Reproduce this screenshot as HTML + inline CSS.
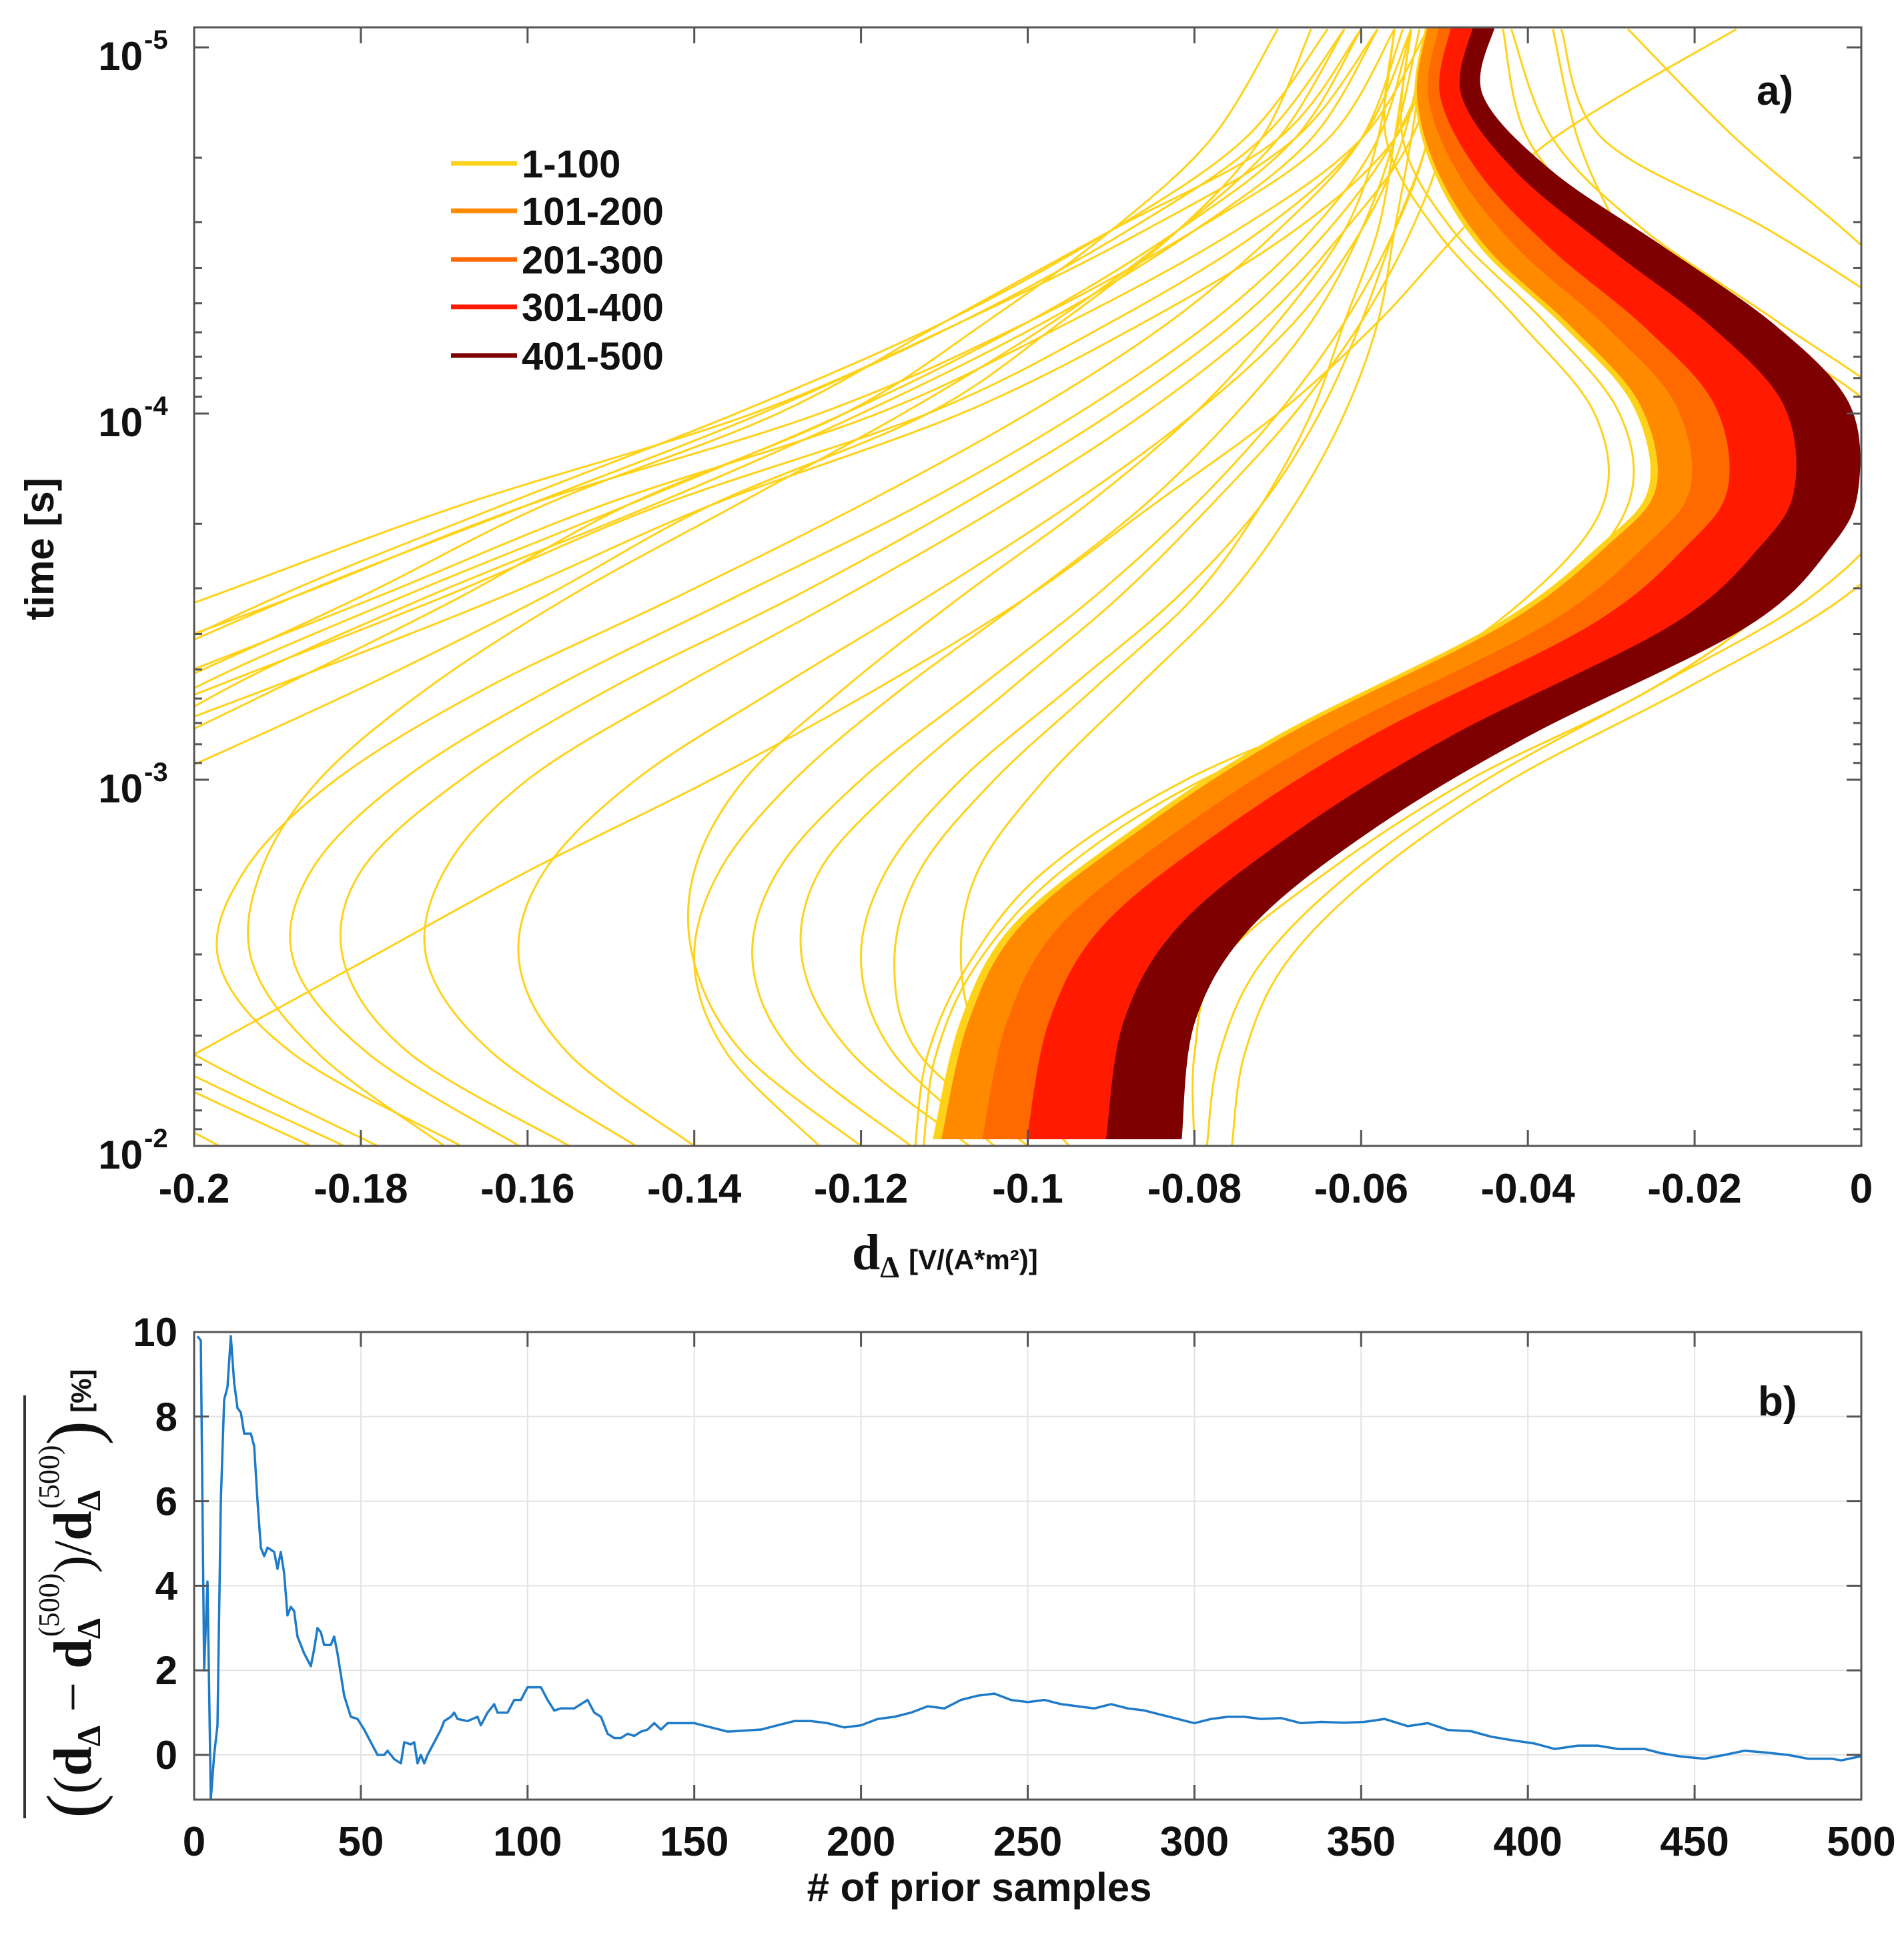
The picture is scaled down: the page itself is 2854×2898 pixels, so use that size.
<!DOCTYPE html>
<html><head><meta charset="utf-8">
<style>
html,body{margin:0;padding:0;background:#fff;}
svg{display:block;}
text{font-family:"Liberation Sans",Arial,sans-serif;font-weight:bold;fill:#111;}
.serif{font-family:"Liberation Serif","DejaVu Serif",serif;}
</style></head>
<body>
<svg id="fig" xmlns="http://www.w3.org/2000/svg" width="2854" height="2898" viewBox="0 0 2854 2898">
<defs>
<clipPath id="clipA"><rect x="291" y="41" width="2499" height="1677"/></clipPath>
<clipPath id="clipB"><rect x="291" y="1997" width="2499" height="701"/></clipPath>
</defs>
<rect width="2854" height="2898" fill="#fff"/>
<g id="panelA"></g>
<g id="panelB"></g>

<text x="80" y="823" font-size="60" text-anchor="middle" transform="rotate(-90 80 823)">time [s]</text>
<text x="1277" y="1903"><tspan style="font-family:'Liberation Serif',serif" font-size="76">d</tspan><tspan style="font-family:'Liberation Serif',serif" font-size="46" dy="12">Δ</tspan><tspan font-size="42" dy="-12" dx="14">[V/(A*m²)]</tspan></text>
<text x="1468" y="2850" font-size="60" text-anchor="middle"># of prior samples</text>
<text x="2633" y="157" font-size="62">a)</text>
<text x="2635" y="2122" font-size="62">b)</text>

<g>
<line x1="37" y1="2092" x2="37" y2="2726" stroke="#333" stroke-width="4"/>
<g transform="translate(136,2726) rotate(-90)">
<text x="0" y="0" style="font-family:'Liberation Serif',serif" font-size="80"><tspan font-size="110" font-weight="normal" dy="10">(</tspan><tspan font-weight="normal" dy="-10">(</tspan><tspan>d</tspan><tspan font-size="50" dy="14">Δ</tspan><tspan font-weight="normal" dy="-14"> − </tspan><tspan>d</tspan><tspan font-size="50" dy="14">Δ</tspan><tspan font-size="44" font-weight="normal" dx="-28" dy="-62">(500)</tspan><tspan font-weight="normal" dy="48">)</tspan><tspan font-weight="normal">/</tspan><tspan>d</tspan><tspan font-size="50" dy="14">Δ</tspan><tspan font-size="44" font-weight="normal" dx="-28" dy="-62">(500)</tspan><tspan font-size="110" font-weight="normal" dy="58">)</tspan><tspan style="font-family:'Liberation Sans',sans-serif" font-size="42" dx="12" dy="-10">[%]</tspan></text>
</g>
</g>
</svg>
<script>
// ---------- Panel a data ----------
const timeNodes = [-5.05,-4.75,-4.5,-4.25,-4,-3.75,-3.5,-3.25,-3,-2.75,-2.5,-2.25,-2.0];
const bandTimes = [-5.06,-4.87,-4.66,-4.45,-4.24,-4.03,-3.8,-3.64,-3.42,-3.12,-2.86,-2.6,-2.34,-2.02];
const bandLeft  = [-0.0522,-0.0535,-0.0512,-0.0455,-0.0357,-0.0275,-0.0254,-0.0313,-0.044,-0.070,-0.0876,-0.1018,-0.108,-0.1113];
const bandRight = [-0.044,-0.0455,-0.0371,-0.0235,-0.0104,-0.0016,-0.0004,-0.0036,-0.0137,-0.040,-0.059,-0.0732,-0.080,-0.0816];
const groupNames = ["1-100","101-200","201-300","301-400","401-500"];
const groupColors = ["#FFD21A","#FF8A00","#FF6A00","#FF1A00","#7F0000"];
const groupFractions = [0,0.035,0.2,0.38,0.70,1];
const yellowA = [
 [-0.056,-0.064,-0.08,-0.1,-0.125,-0.16,-0.188,-0.218,-0.248,-0.278,-0.308,-0.338,-0.368],
 [-0.058,-0.068,-0.086,-0.108,-0.133,-0.168,-0.198,-0.228,-0.258,-0.288,-0.318,-0.348,-0.378],
 [-0.052,-0.06,-0.075,-0.095,-0.118,-0.151,-0.178,-0.206,-0.236,-0.268,-0.298,-0.328,-0.358],
 [-0.05,-0.056,-0.068,-0.086,-0.108,-0.138,-0.163,-0.191,-0.22,-0.248,-0.278,-0.308,-0.338],
 [-0.054,-0.06,-0.072,-0.09,-0.112,-0.144,-0.17,-0.198,-0.226,-0.254,-0.283,-0.308,-0.338],
 [-0.06,-0.07,-0.09,-0.11,-0.13,-0.158,-0.18,-0.204,-0.23,-0.258,-0.288,-0.318,-0.348],
 [-0.07,-0.078,-0.09,-0.105,-0.122,-0.148,-0.168,-0.19,-0.213,-0.238,-0.268,-0.298,-0.328],
 [-0.066,-0.072,-0.082,-0.096,-0.112,-0.138,-0.158,-0.18,-0.204,-0.228,-0.258,-0.288,-0.318]
];
const yellowB = [
 [-0.055,-0.06,-0.07,-0.083,-0.1,-0.12,-0.142,-0.165,-0.183,-0.194,-0.197,-0.188,-0.168],
 [-0.054,-0.058,-0.066,-0.078,-0.094,-0.113,-0.135,-0.157,-0.175,-0.186,-0.188,-0.179,-0.161],
 [-0.05,-0.056,-0.064,-0.075,-0.09,-0.108,-0.128,-0.15,-0.168,-0.18,-0.182,-0.174,-0.155],
 [-0.05,-0.054,-0.062,-0.072,-0.086,-0.103,-0.122,-0.142,-0.16,-0.17,-0.172,-0.164,-0.147],
 [-0.052,-0.055,-0.06,-0.068,-0.08,-0.095,-0.112,-0.13,-0.147,-0.158,-0.161,-0.155,-0.14],
 [-0.05,-0.052,-0.056,-0.062,-0.07,-0.08,-0.092,-0.106,-0.12,-0.13,-0.133,-0.128,-0.114],
 [-0.048,-0.05,-0.054,-0.06,-0.068,-0.078,-0.089,-0.102,-0.115,-0.125,-0.127,-0.121,-0.107],
 [-0.05,-0.052,-0.056,-0.06,-0.065,-0.072,-0.082,-0.095,-0.108,-0.117,-0.12,-0.116,-0.104],
 [-0.054,-0.056,-0.058,-0.062,-0.066,-0.072,-0.08,-0.092,-0.104,-0.113,-0.116,-0.113,-0.1],
 [-0.052,-0.054,-0.056,-0.058,-0.062,-0.068,-0.076,-0.087,-0.098,-0.106,-0.108,-0.105,-0.095],
 [-0.056,-0.058,-0.062,-0.07,-0.08,-0.093,-0.108,-0.122,-0.134,-0.14,-0.14,-0.134,-0.12],
 [-0.053,-0.056,-0.06,-0.066,-0.075,-0.086,-0.1,-0.115,-0.128,-0.137,-0.14,-0.136,-0.125],
 [-0.062,-0.07,-0.082,-0.097,-0.115,-0.135,-0.155,-0.172,-0.185,-0.192,-0.193,-0.185,-0.17]
];
const yellowC = [
 [-0.062,-0.072,-0.088,-0.108,-0.132,-0.16,-0.188,-0.212,-0.228,-0.236,-0.232,-0.217,-0.197],
 [-0.064,-0.074,-0.09,-0.11,-0.135,-0.163,-0.19,-0.212,-0.226,-0.232,-0.226,-0.209,-0.186],
 [-0.06,-0.068,-0.082,-0.1,-0.122,-0.148,-0.175,-0.2,-0.218,-0.226,-0.222,-0.205,-0.182],
 [-0.058,-0.066,-0.08,-0.098,-0.12,-0.145,-0.172,-0.196,-0.213,-0.221,-0.217,-0.2,-0.178]
];
const yellowRight = [
 [-0.036,-0.031,-0.011,0.006,0.02,0.03,0.04,0.05,0.06,0.07,0.08,0.09,0.1],
 [-0.028,-0.015,-0.002,0.01,0.02,0.03,0.04,0.05,0.06,0.07,0.08,0.09,0.1],
 [-0.015,-0.037,-0.048,-0.058,-0.07,-0.085,-0.1,-0.118,-0.138,-0.16,-0.18,-0.2,-0.22],
 [-0.037,-0.034,-0.029,-0.022,-0.012,-0.005,-0.01,-0.025,-0.047,-0.064,-0.077,-0.08,-0.08],
 [-0.043,-0.04,-0.03,-0.014,0.002,0.004,-0.006,-0.025,-0.045,-0.061,-0.072,-0.077,-0.0785],
 [-0.042,-0.037,-0.026,-0.01,0.005,0.008,-0.002,-0.021,-0.042,-0.058,-0.069,-0.074,-0.0755],
 [-0.054,-0.055,-0.049,-0.038,-0.029,-0.028,-0.037,-0.053,-0.079,-0.096,-0.106,-0.111,-0.1125],
 [-0.056,-0.057,-0.051,-0.041,-0.032,-0.031,-0.04,-0.056,-0.081,-0.098,-0.107,-0.112,-0.1135]
];
const xTicksA = [-0.2,-0.18,-0.16,-0.14,-0.12,-0.1,-0.08,-0.06,-0.04,-0.02,0];
const xTickLabelsA = ["-0.2","-0.18","-0.16","-0.14","-0.12","-0.1","-0.08","-0.06","-0.04","-0.02","0"];
const yDecadesA = [-5,-4,-3,-2];
const yDecadeLabelsA = ["-5","-4","-3","-2"];

// ---------- Panel b data ----------
const priorSamples = [1,2,3,4,5,6,7,8,9,10,11,12,13,14,15,17,18,19,20,21,22,24,25,26,27,28,29,30,31,33,35,36,37,38,39,41,42,43,45,47,49,51,53,55,57,58,60,62,63,65,66,67,68,69,70,72,74,75,77,78,79,82,85,86,88,90,91,94,96,98,100,102,104,106,108,110,112,114,116,118,120,122,124,126,128,130,132,134,136,138,140,142,150,160,170,175,180,185,190,195,200,205,210,215,220,225,230,235,240,245,250,255,260,265,270,275,280,285,290,295,300,305,310,315,320,326,332,338,345,351,357,364,370,376,383,389,395,402,408,415,421,427,435,440,446,453,459,465,472,478,484,491,494,500];
const relDiffPct  = [9.9,9.8,2.0,4.1,-1.05,0.0,0.7,6.0,8.4,8.7,9.9,8.8,8.2,8.1,7.6,7.6,7.3,6.0,4.9,4.7,4.9,4.8,4.4,4.8,4.3,3.3,3.5,3.4,2.8,2.4,2.1,2.5,3.0,2.9,2.6,2.6,2.8,2.4,1.4,0.9,0.85,0.6,0.3,0.0,0.0,0.1,-0.1,-0.2,0.3,0.25,0.3,-0.2,0.0,-0.2,0.0,0.3,0.6,0.8,0.9,1.0,0.85,0.8,0.9,0.7,1.0,1.2,1.0,1.0,1.3,1.3,1.6,1.6,1.6,1.3,1.05,1.1,1.1,1.1,1.2,1.3,1.0,0.9,0.5,0.4,0.4,0.5,0.45,0.55,0.6,0.75,0.6,0.75,0.75,0.55,0.6,0.7,0.8,0.8,0.75,0.65,0.7,0.85,0.9,1.0,1.15,1.1,1.3,1.4,1.45,1.3,1.25,1.3,1.2,1.15,1.1,1.2,1.1,1.05,0.95,0.85,0.75,0.85,0.9,0.9,0.85,0.87,0.75,0.78,0.76,0.78,0.85,0.68,0.75,0.59,0.56,0.43,0.35,0.27,0.14,0.22,0.22,0.14,0.14,0.04,-0.04,-0.09,0.0,0.1,0.05,0.0,-0.09,-0.09,-0.13,-0.03];
const xTicksB = [0,50,100,150,200,250,300,350,400,450,500];
const yTicksB = [0,2,4,6,8,10];

// ---------- scales ----------
const A = {x0:291,x1:2790,y0:41,y1:1718};
function xA(v){ return 291 + (v+0.2)/0.2*2499; }
function yA(lt){ return 71 + (lt+5)*549; }
const B = {x0:291,x1:2790,y0:1997,y1:2698};
function xB(n){ return 291 + n/500*2499; }
function yB(v){ return 2631 - v*63.4; }

const NS = "http://www.w3.org/2000/svg";
function mk(tag, attrs, parent){
  const e = document.createElementNS(NS, tag);
  for (const k in attrs) e.setAttribute(k, attrs[k]);
  parent.appendChild(e); return e;
}
function smooth(pts, move){
  let d = move ? `M${pts[0][0].toFixed(1)},${pts[0][1].toFixed(1)}` : `L${pts[0][0].toFixed(1)},${pts[0][1].toFixed(1)}`;
  for (let i=0;i<pts.length-1;i++){
    const p0 = pts[Math.max(0,i-1)], p1 = pts[i], p2 = pts[i+1], p3 = pts[Math.min(pts.length-1,i+2)];
    const c1 = [p1[0]+(p2[0]-p0[0])/6, p1[1]+(p2[1]-p0[1])/6];
    const c2 = [p2[0]-(p3[0]-p1[0])/6, p2[1]-(p3[1]-p1[1])/6];
    d += `C${c1[0].toFixed(1)},${c1[1].toFixed(1)} ${c2[0].toFixed(1)},${c2[1].toFixed(1)} ${p2[0].toFixed(1)},${p2[1].toFixed(1)}`;
  }
  return d;
}

// ---------- Panel a ----------
const pa = document.getElementById('panelA');
const curves = mk('g', {'clip-path':'url(#clipA)'}, pa);



function drawYellow(list, name){
  list.forEach((xs, i) => {
    const pts = xs.map((v, j) => [xA(v), yA(timeNodes[j])]);
    const p = mk('path', {d: smooth(pts, true), fill:'none', stroke:'#FFD21A', 'stroke-width':3}, curves);
    
    
  });
}
drawYellow(yellowA, 'yellow-a');
drawYellow(yellowB, 'yellow-b');
drawYellow(yellowC, 'yellow-c');
drawYellow(yellowRight, 'yellow-right');

for (let g=0; g<groupNames.length; g++){
  const f0 = groupFractions[g], f1 = groupFractions[g+1];
  const e0 = bandTimes.map((t,i)=>[xA(bandLeft[i]+f0*(bandRight[i]-bandLeft[i])), yA(t)]);
  const e1 = bandTimes.map((t,i)=>[xA(bandLeft[i]+f1*(bandRight[i]-bandLeft[i])), yA(t)]).reverse();
  const d = smooth(e0, true) + smooth(e1, false) + 'Z';
  const p = mk('path', {d, fill:groupColors[g], stroke:groupColors[g], 'stroke-width':2}, curves);
  
  
}

const boxA = mk('rect', {x:A.x0, y:A.y0, width:A.x1-A.x0, height:A.y1-A.y0, fill:'none', stroke:'#555', 'stroke-width':3}, pa);



xTicksA.forEach((v,i)=>{
  const x = xA(v);
  const t1 = mk('line', {x1:x, y1:A.y1, x2:x, y2:A.y1-24, stroke:'#555','stroke-width':3}, pa);
  
  
  const t2 = mk('line', {x1:x, y1:A.y0, x2:x, y2:A.y0+24, stroke:'#555','stroke-width':3}, pa);
  
  
  const lb = mk('text', {x:x, y:1803, 'font-size':62, 'text-anchor':'middle'}, pa);
  lb.textContent = xTickLabelsA[i];
  
  
});
yDecadesA.forEach((d,i)=>{
  const y = yA(d);
  [[A.x0, 1],[A.x1,-1]].forEach(([x,s])=>{
    const t = mk('line', {x1:x, y1:y, x2:x+s*22, y2:y, stroke:'#555','stroke-width':3}, pa);
    
    
    if (d < -2){
      for (let m=2;m<=9;m++){
        const ym = yA(d + Math.log10(m));
        const tm = mk('line', {x1:x, y1:ym, x2:x+s*12, y2:ym, stroke:'#555','stroke-width':3}, pa);
        
        
      }
    }
  });
  const lb = mk('text', {x:214, y:y+34, 'font-size':60, 'text-anchor':'end'}, pa);
  lb.textContent = '10';
  
  
  const sp = mk('text', {x:216, y:y+2, 'font-size':40}, pa);
  sp.textContent = yDecadeLabelsA[i];
  
  
});

const legend = mk('g', {}, pa);


const legendRows = [245,316,389,460,533];
groupNames.forEach((n,i)=>{
  const ln = mk('line', {x1:676, y1:legendRows[i], x2:775, y2:legendRows[i], stroke:groupColors[i], 'stroke-width':7}, legend);
  
  
  const tx = mk('text', {x:782, y:legendRows[i]+21, 'font-size':58}, legend);
  tx.textContent = n;
  
  
});

// ---------- Panel b ----------
const pb = document.getElementById('panelB');
xTicksB.forEach(v=>{
  const x = xB(v);
  const gl = mk('line', {x1:x, y1:B.y0, x2:x, y2:B.y1, stroke:'#e3e3e3','stroke-width':2}, pb);
  
  
});
yTicksB.forEach(v=>{
  const y = yB(v);
  const gl = mk('line', {x1:B.x0, y1:y, x2:B.x1, y2:y, stroke:'#e3e3e3','stroke-width':2}, pb);
  
  
});
const series = mk('g', {'clip-path':'url(#clipB)'}, pb);


const linePts = priorSamples.map((n,i)=>`${xB(n).toFixed(1)},${yB(relDiffPct[i]).toFixed(1)}`).join(' ');
const pl = mk('polyline', {points:linePts, fill:'none', stroke:'#1F7BC7', 'stroke-width':3.5, 'stroke-linejoin':'round'}, series);



const boxB = mk('rect', {x:B.x0, y:B.y0, width:B.x1-B.x0, height:B.y1-B.y0, fill:'none', stroke:'#555', 'stroke-width':3}, pb);


xTicksB.forEach(v=>{
  const x = xB(v);
  const t1 = mk('line', {x1:x, y1:B.y1, x2:x, y2:B.y1-22, stroke:'#555','stroke-width':3}, pb);
  
  
  const t2 = mk('line', {x1:x, y1:B.y0, x2:x, y2:B.y0+22, stroke:'#555','stroke-width':3}, pb);
  
  
  const lb = mk('text', {x:x, y:2782, 'font-size':62, 'text-anchor':'middle'}, pb);
  lb.textContent = String(v);
  
  
});
yTicksB.forEach(v=>{
  const y = yB(v);
  const t1 = mk('line', {x1:B.x0, y1:y, x2:B.x0+22, y2:y, stroke:'#555','stroke-width':3}, pb);
  
  
  const t2 = mk('line', {x1:B.x1, y1:y, x2:B.x1-22, y2:y, stroke:'#555','stroke-width':3}, pb);
  
  
  const lb = mk('text', {x:266, y:y+21, 'font-size':60, 'text-anchor':'end'}, pb);
  lb.textContent = String(v);
  
  
});
</script>
</body></html>
